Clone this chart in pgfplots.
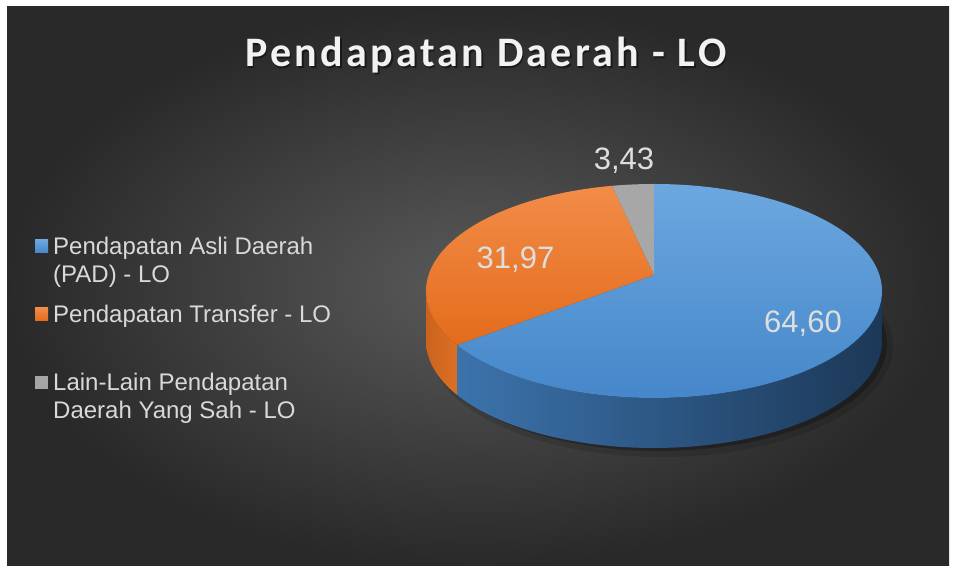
\documentclass[border=0pt]{standalone}
\usepackage{fontspec}
\setmainfont{Liberation Sans}
\newfontfamily\titlefont[LetterSpace=7.9]{Carlito}
\usepackage{pgfplots}
\usepackage{pgfplotstable}
\pgfplotsset{compat=1.18}

\definecolor{bgin}{HTML}{5A5A5A}
\definecolor{bgout}{HTML}{292929}
\definecolor{titletxt}{HTML}{F2F2F2}
\definecolor{legtxt}{HTML}{D9D9D9}
\definecolor{lbltxt}{HTML}{DEDEDE}
\definecolor{btopT}{HTML}{6CA7DF}
\definecolor{btopB}{HTML}{4587CA}
\definecolor{bsideL}{HTML}{3C73AC}
\definecolor{bsideR}{HTML}{1C3857}
\definecolor{otopT}{HTML}{F28C48}
\definecolor{otopB}{HTML}{E46C1C}
\definecolor{osideL}{HTML}{CC631D}
\definecolor{osideR}{HTML}{DB7025}
\definecolor{gtop}{HTML}{A7A7A7}
\definecolor{legblue}{HTML}{5B9BD5}
\definecolor{legorange}{HTML}{ED7D31}
\definecolor{leggray}{HTML}{A5A5A5}

\pgfplotstableread{
label value
PAD 64.60
Transfer 31.97
Lain 3.43
}\piedata

\begin{document}
\begin{tikzpicture}
\pgfplotstablegetelem{0}{value}\of\piedata \pgfmathsetmacro\va{\pgfplotsretval}
\pgfplotstablegetelem{1}{value}\of\piedata \pgfmathsetmacro\vb{\pgfplotsretval}
\pgfplotstablegetelem{2}{value}\of\piedata \pgfmathsetmacro\vc{\pgfplotsretval}
\pgfmathsetmacro\tot{\va+\vb+\vc}
% angles (counter-clockwise, degrees); slices run clockwise from 12 o'clock
\pgfmathsetmacro\aA{90-3.6*(\va/\tot*100)}   % blue: \aA .. 90
\pgfmathsetmacro\aB{\aA-3.6*(\vb/\tot*100)}  % orange: \aB .. \aA
\pgfmathsetmacro\aC{\aB-3.6*(\vc/\tot*100)}  % gray: \aC .. \aB
\def\cx{654}\def\cy{281}\def\rx{228}\def\ry{107}\def\dep{50}
\def\k{0.15}
\pgfmathsetmacro\sk{sqrt(1-\k*\k)}
\pgfmathsetmacro\ts{asin(\k)}          % silhouette offset angle
\pgfmathsetmacro\apy{\cy+\ry*\k}       % projected centre of the pie
\begin{axis}[
  scale only axis, width=955pt, height=572pt,
  xmin=0, xmax=955, ymin=0, ymax=572,
  hide axis, clip=false,
  declare function={
    px(\t)=\cx+\rx*\sk*cos(\t)/(1+\k*sin(\t));
    py(\t)=\cy+\ry*(sin(\t)+\k)/(1+\k*sin(\t));
    tt(\s,\p,\q)=\p+(\q-\p)*(min(\s,1)-max(\s-2,0));
    dz(\s)=\dep*min(max(\s-1,0),1);
  },
  legend style={at={(axis cs:35,337.6)}, anchor=north west, draw=none, fill=none,
    inner sep=0pt, row sep=12pt, column sep=5pt,
    nodes={inner sep=0pt, text depth=},
    cells={anchor=base west},
    font=\fontsize{24}{28}\selectfont, text=legtxt},
]
% background
\fill[white] (axis cs:0,0) rectangle (axis cs:955,572);
\fill[inner color=bgin, outer color=bgout] (axis cs:7,6) rectangle (axis cs:949,565);
% soft shadow
\addplot[forget plot, draw=none, fill=black, fill opacity=0.12, domain=0:360, samples=120]
  ({\cx+7+(\rx+4)*cos(x)},{\cy-\dep-5+(\ry+4)*sin(x)});
\addplot[forget plot, draw=none, fill=black, fill opacity=0.25, domain=0:360, samples=120]
  ({\cx+5+\rx*cos(x)},{\cy-\dep-3+\ry*sin(x)});
% side walls (front, visible part)
\pgfmathsetmacro\sL{-180+\ts}
\pgfmathsetmacro\sR{-\ts}
\addplot[forget plot, draw=none, left color=osideL, right color=osideR, domain=0:3, samples=301]
  ({px(tt(x,\sL,\aA))},{py(tt(x,\sL,\aA))-dz(x)});
\addplot[forget plot, draw=none, left color=bsideL, right color=bsideR, domain=0:3, samples=301]
  ({px(tt(x,\aA,\sR))},{py(tt(x,\aA,\sR))-dz(x)});
% top faces
\addplot[draw=none, top color=btopT, bottom color=btopB, domain=\aA:90, samples=180,
  legend image code/.code={\fill[legblue] (0pt,1.5pt) rectangle (13pt,14.5pt);}]
  ({px(x)},{py(x)}) -- (axis cs:\cx,\apy) -- cycle;
\addlegendentry{\parbox[t]{320pt}{\strut Pendapatan Asli Daerah\\\strut (PAD) - LO}}
\addplot[draw=none, top color=otopT, bottom color=otopB, domain=\aB:\aA, samples=120,
  legend image code/.code={\fill[legorange] (0pt,1.5pt) rectangle (13pt,14.5pt);}]
  ({px(x)},{py(x)}) -- (axis cs:\cx,\apy) -- cycle;
\addlegendentry{\parbox[t]{320pt}{\strut Pendapatan Transfer - LO\\\strut\mbox{}}}
\addplot[draw=none, fill=gtop, domain=\aC:\aB, samples=30,
  legend image code/.code={\fill[leggray] (0pt,1.5pt) rectangle (13pt,14.5pt);}]
  ({px(x)},{py(x)}) -- (axis cs:\cx,\apy) -- cycle;
\addlegendentry{\parbox[t]{320pt}{\strut Lain-Lain Pendapatan\\\strut Daerah Yang Sah - LO}}
% value labels
\node[anchor=base, font=\fontsize{31}{36}\selectfont, text=lbltxt] at (axis cs:803,239.3) {64,60};
\node[anchor=base, font=\fontsize{31}{36}\selectfont, text=lbltxt] at (axis cs:515.5,303) {31,97};
\node[anchor=base, font=\fontsize{31}{36}\selectfont, text=lbltxt] at (axis cs:624,402) {3,43};
% title
\node[anchor=base, font=\titlefont\bfseries\fontsize{42}{48}\selectfont, text=black, opacity=0.45] at (axis cs:487.5,503.5) {Pendapatan Daerah - LO};
\node[anchor=base, font=\titlefont\bfseries\fontsize{42}{48}\selectfont, text=titletxt] at (axis cs:486,505) {Pendapatan Daerah - LO};
\end{axis}
\end{tikzpicture}
\end{document}
